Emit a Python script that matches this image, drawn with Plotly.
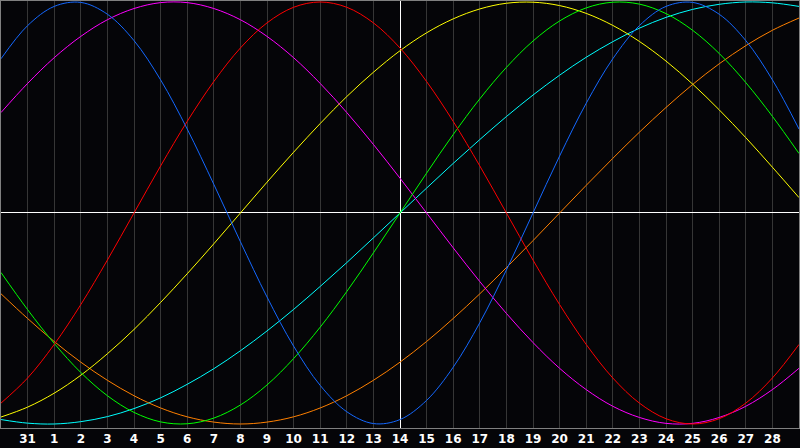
import plotly.graph_objects as go

# x positions (days relative to the marked centre day) and tick labels
day_offset = list(range(-15, 16))
tick_offset = list(range(-14, 15))
tick_labels = ["31"] + [str(d) for d in range(1, 29)]

# cycle values read at each day line
physical_23 = [0.731, 0.888, 0.979, 0.998, 0.942, 0.817, 0.631, 0.398, 0.136, -0.136, -0.398, -0.631,
               -0.817, -0.942, -0.998, -0.979, -0.888, -0.731, -0.520, -0.270, 0.000, 0.270, 0.520,
               0.731, 0.888, 0.979, 0.998, 0.942, 0.817, 0.631, 0.398]
emotional_28 = [-0.901, -0.782, -0.623, -0.434, -0.223, 0.000, 0.223, 0.434, 0.623, 0.782, 0.901, 0.975,
                1.000, 0.975, 0.901, 0.782, 0.623, 0.434, 0.223, 0.000, -0.223, -0.434, -0.623, -0.782,
                -0.901, -0.975, -1.000, -0.975, -0.901, -0.782, -0.623]
intellectual_33 = [-0.282, -0.458, -0.618, -0.756, -0.866, -0.945, -0.990, -0.999, -0.972, -0.910, -0.815,
                   -0.690, -0.541, -0.372, -0.189, 0.000, 0.189, 0.372, 0.541, 0.690, 0.815, 0.910, 0.972,
                   0.999, 0.990, 0.945, 0.866, 0.756, 0.618, 0.458, 0.282]
intuitive_38 = [0.476, 0.614, 0.736, 0.837, 0.916, 0.969, 0.997, 0.997, 0.969, 0.916, 0.837, 0.736, 0.614,
                0.476, 0.325, 0.165, 0.000, -0.165, -0.325, -0.476, -0.614, -0.736, -0.837, -0.916,
                -0.969, -0.997, -0.997, -0.969, -0.916, -0.837, -0.736]
aesthetic_43 = [-0.967, -0.920, -0.854, -0.769, -0.667, -0.552, -0.424, -0.288, -0.146, 0.000, 0.146,
                0.288, 0.424, 0.552, 0.667, 0.769, 0.854, 0.920, 0.967, 0.994, 0.999, 0.983, 0.946,
                0.889, 0.813, 0.720, 0.611, 0.489, 0.357, 0.217, 0.073]
awareness_48 = [-0.383, -0.500, -0.609, -0.707, -0.793, -0.866, -0.924, -0.966, -0.991, -1.000, -0.991,
                -0.966, -0.924, -0.866, -0.793, -0.707, -0.609, -0.500, -0.383, -0.259, -0.131, 0.000,
                0.131, 0.259, 0.383, 0.500, 0.609, 0.707, 0.793, 0.866, 0.924]
spiritual_53 = [-0.979, -0.996, -1.000, -0.989, -0.965, -0.927, -0.876, -0.812, -0.738, -0.653, -0.559,
                -0.457, -0.348, -0.235, -0.118, 0.000, 0.118, 0.235, 0.348, 0.457, 0.559, 0.653, 0.738,
                0.812, 0.876, 0.927, 0.965, 0.989, 1.000, 0.996, 0.979]

series = [
    ("Spiritual", spiritual_53, "#00ffff"),
    ("Awareness", awareness_48, "#ff8000"),
    ("Aesthetic", aesthetic_43, "#ffff00"),
    ("Intuitive", intuitive_38, "#ff00ff"),
    ("Intellectual", intellectual_33, "#00ff00"),
    ("Emotional", emotional_28, "#ff0000"),
    ("Physical", physical_23, "#1468ff"),
]

fig = go.Figure()
for name, vals, col in series:
    fig.add_trace(go.Scatter(x=day_offset, y=vals, mode="lines", name=name,
                             line=dict(color=col, width=1, shape="spline"), hoverinfo="skip"))

fig.update_layout(
    width=800, height=448,
    margin=dict(l=1, r=1, t=1, b=20),
    paper_bgcolor="#050508", plot_bgcolor="#050508",
    showlegend=False,
    xaxis=dict(range=[-15, 15], tickmode="array", tickvals=tick_offset, ticktext=tick_labels,
               showgrid=True, gridcolor="#363636", gridwidth=1,
               zeroline=True, zerolinecolor="white", zerolinewidth=1,
               showline=True, linecolor="#808080", linewidth=1, mirror=True,
               ticks="", tickfont=dict(family="DejaVu Sans", size=12, color="white", weight="bold"),
               fixedrange=True),
    yaxis=dict(range=[-1.019, 1.0047], showgrid=False,
               zeroline=True, zerolinecolor="white", zerolinewidth=1, showticklabels=False,
               showline=True, linecolor="#808080", linewidth=1, mirror=True, ticks="",
               fixedrange=True),
)
fig.write_html("out.html", config={"displayModeBar": False, "staticPlot": True})

with open("out.html", "r", encoding="utf-8") as f:
    html = f.read()
html = html.replace("<head>", "<head><style>html,body{margin:0;padding:0;overflow:hidden;background:#050508}</style>", 1)
with open("out.html", "w", encoding="utf-8") as f:
    f.write(html)
